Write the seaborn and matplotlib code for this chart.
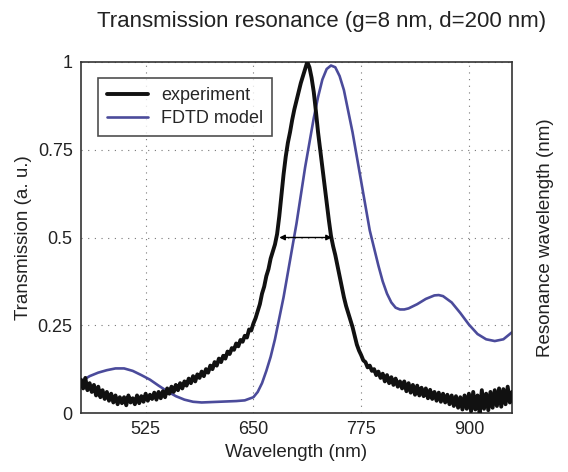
import numpy as np
import pandas as pd
import matplotlib
matplotlib.use("Agg")
import matplotlib.pyplot as plt
import seaborn as sns

exp_T = [
    0.095, 0.07, 0.10, 0.065, 0.085, 0.06, 0.08, 0.05, 0.075, 0.045,
    0.065, 0.04, 0.06, 0.035, 0.055, 0.03, 0.05, 0.025, 0.045, 0.028,
    0.045, 0.022, 0.05, 0.03, 0.042, 0.025, 0.05, 0.028, 0.048, 0.032,
    0.055, 0.035, 0.052, 0.04, 0.058, 0.038, 0.06, 0.042, 0.062, 0.045,
    0.07, 0.055, 0.075, 0.06, 0.08, 0.065, 0.085, 0.07, 0.09, 0.078,
    0.098, 0.085, 0.105, 0.09, 0.11, 0.10, 0.118, 0.105, 0.125, 0.115,
    0.135, 0.125, 0.145, 0.135, 0.155, 0.145, 0.163, 0.155, 0.175, 0.168,
    0.185, 0.18, 0.198, 0.19, 0.208, 0.203, 0.22, 0.215, 0.238, 0.235,
    0.255, 0.27, 0.29, 0.31, 0.34, 0.36, 0.39, 0.41, 0.44, 0.46,
    0.48, 0.51, 0.56, 0.62, 0.68, 0.73, 0.77, 0.80, 0.835, 0.865,
    0.89, 0.915, 0.94, 0.96, 0.98, 1.0, 0.985, 0.955, 0.915, 0.86,
    0.80, 0.75, 0.70, 0.65, 0.60, 0.55, 0.505, 0.475, 0.45, 0.42,
    0.39, 0.36, 0.33, 0.305, 0.285, 0.265, 0.245, 0.22, 0.195, 0.178,
    0.165, 0.15, 0.145, 0.13, 0.135, 0.12, 0.125, 0.108, 0.118, 0.10,
    0.112, 0.09, 0.108, 0.085, 0.102, 0.08, 0.098, 0.075, 0.09, 0.07,
    0.09, 0.062, 0.085, 0.058, 0.08, 0.052, 0.078, 0.05, 0.072, 0.048,
    0.07, 0.042, 0.066, 0.04, 0.06, 0.035, 0.058, 0.032, 0.055, 0.03,
    0.052, 0.025, 0.05, 0.02, 0.048, 0.015, 0.045, 0.01, 0.05, 0.012,
    0.055, 0.005, 0.06, 0.01, 0.05, 0.0, 0.065, 0.012, 0.055, 0.008,
    0.06, 0.015, 0.065, 0.02, 0.07, 0.018, 0.068, 0.025, 0.075, 0.03,
    0.06,
]
exp_wl = np.linspace(450, 950, len(exp_T))

# FDTD model
fdtd_wl = [450, 460, 470, 480, 490, 500, 510, 520, 530, 540, 550, 560, 570, 580,
           590, 600, 610, 620, 630, 640, 650, 655, 660, 665, 670, 675, 680, 685,
           690, 695, 700, 705, 710, 715, 720, 725, 730, 735, 740, 745, 750, 755,
           760, 765, 770, 775, 780, 785, 790, 795, 800, 805, 810, 815, 820, 825,
           830, 840, 850, 860, 865, 870, 880, 890, 900, 910, 920, 930, 940, 950]
fdtd_T = [0.09, 0.105, 0.115, 0.122, 0.127, 0.127, 0.12, 0.108, 0.095, 0.078,
          0.062, 0.048, 0.038, 0.032, 0.030, 0.031, 0.032, 0.033, 0.034, 0.036,
          0.045, 0.06, 0.085, 0.12, 0.16, 0.21, 0.27, 0.33, 0.40, 0.47, 0.54,
          0.62, 0.70, 0.77, 0.84, 0.90, 0.95, 0.98, 0.99, 0.985, 0.96, 0.92,
          0.86, 0.80, 0.73, 0.66, 0.59, 0.52, 0.47, 0.42, 0.375, 0.34, 0.315,
          0.30, 0.295, 0.295, 0.298, 0.31, 0.325, 0.335, 0.336, 0.333, 0.315,
          0.285, 0.252, 0.225, 0.21, 0.205, 0.21, 0.23]

# FWHM arrow
fwhm_left, fwhm_right, fwhm_level = 680, 741, 0.5

xticks = [525, 650, 775, 900]
yticks = [0, 0.25, 0.5, 0.75, 1]
ytick_labels = ["0", "0.25", "0.5", "0.75", "1"]

sns.set_theme(style="white")
plt.rcParams["font.family"] = ["Liberation Sans", "DejaVu Sans"]

df_exp = pd.DataFrame({"wl": exp_wl, "T": exp_T})
df_fdtd = pd.DataFrame({"wl": fdtd_wl, "T": fdtd_T})

fig = plt.figure(figsize=(5.68, 4.72), dpi=100)
ax = fig.add_axes([81 / 568, 1 - 413 / 472, 431 / 568, 351 / 472])

sns.lineplot(data=df_exp, x="wl", y="T", ax=ax, color="#111111", lw=2.8,
             label="experiment", zorder=3)
sns.lineplot(data=df_fdtd, x="wl", y="T", ax=ax, color="#4b4b9b", lw=1.9,
             label="FDTD model", zorder=2)

ax.annotate("", xy=(fwhm_left, fwhm_level), xytext=(fwhm_right, fwhm_level),
            arrowprops=dict(arrowstyle="<|-|>", color="black", lw=1.0,
                            mutation_scale=8, shrinkA=0, shrinkB=0), zorder=4)

ax.set_xlim(450, 950)
ax.set_ylim(0, 1)
ax.set_xticks(xticks)
ax.set_yticks(yticks)
ax.set_yticklabels(ytick_labels)
ax.tick_params(labelsize=13, length=0, pad=6, colors="#222222")
ax.grid(True, color="#777777", linestyle=(0, (1, 5)), lw=0.8)
ax.set_xlabel("Wavelength (nm)", fontsize=13.5, color="#222222")
ax.set_ylabel("Transmission (a. u.)", fontsize=13.5, color="#222222")
for s in ax.spines.values():
    s.set_visible(True)
    s.set_color("#333333")
    s.set_linewidth(1.2)

leg = ax.legend(loc="upper left", bbox_to_anchor=(0.039, 0.955), borderaxespad=0,
                fontsize=13, frameon=True, fancybox=False, handlelength=2.3,
                borderpad=0.5, labelspacing=0.35, handletextpad=0.7)
leg.get_frame().set_edgecolor("#222222")
leg.get_frame().set_linewidth(1.2)

ax2 = ax.twinx()
ax2.set_yticks([])
ax2.set_ylabel("Resonance wavelength (nm)", fontsize=13.5, color="#222222", labelpad=18)
for s in ax2.spines.values():
    s.set_visible(False)

fig.text(322 / 568, 1 - 22 / 472, "Transmission resonance (g=8 nm, d=200 nm)",
         ha="center", va="center", fontsize=16, color="#222222")

fig.savefig("out.png", dpi=100)
